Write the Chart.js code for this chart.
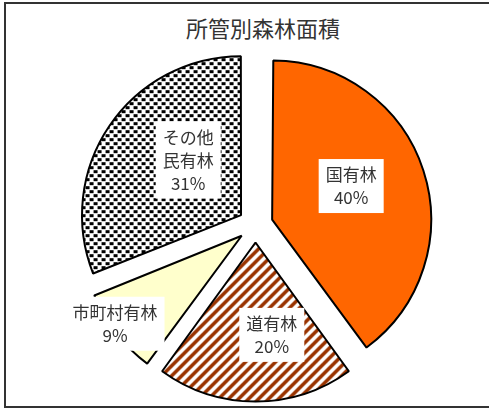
<!DOCTYPE html>
<html>
<head>
<meta charset="utf-8">
<script src="https://cdn.jsdelivr.net/npm/chart.js@4.4.0/dist/chart.umd.min.js"></script>
<style>
  body { margin: 0; background: #fff; width: 489px; height: 410px; overflow: hidden; position: relative;
         font-family: "Noto Sans CJK JP", sans-serif; }
  #frame { position: absolute; left: 4px; top: 2px; width: 600px; height: 406px; box-sizing: border-box;
           border: 2px solid #333; }
  #title { position: absolute; left: 0; top: 11px; width: 526px; text-align: center; font-size: 22px;
           line-height: 32px; color: #333; }
  canvas { position: absolute; left: 0; top: 0; }
</style>
</head>
<body>
<div id="frame"></div>
<div id="title">所管別森林面積</div>
<canvas id="pie" width="489" height="410"></canvas>
<script>
// shares in percent, clockwise from 12 o'clock
const categories = ['国有林', '道有林', '市町村有林', 'その他民有林'];
const shares = [40, 20, 9, 31];

const R = 159;
const explode = 70;   // Chart.js moves an arc by offset / 4

function stripes() {
  const c = document.createElement('canvas');
  c.width = 10; c.height = 10;
  const g = c.getContext('2d');
  g.fillStyle = '#fff';
  g.fillRect(0, 0, 10, 10);
  g.strokeStyle = '#993300';
  g.lineWidth = 3.5;
  g.beginPath();
  g.moveTo(-5, 5); g.lineTo(5, -5);
  g.moveTo(0, 10); g.lineTo(10, 0);
  g.moveTo(5, 15); g.lineTo(15, 5);
  g.stroke();
  return g.createPattern(c, 'repeat');
}

function checks() {
  const c = document.createElement('canvas');
  c.width = 8; c.height = 8;
  const g = c.getContext('2d');
  g.fillStyle = '#fff';
  g.fillRect(0, 0, 8, 8);
  g.fillStyle = '#000';
  g.fillRect(0, 0, 4, 3);
  g.fillRect(4, 4, 4, 3);
  return g.createPattern(c, 'repeat');
}

// keep every slice at the same radius after the offset
const evenRadius = {
  id: 'evenRadius',
  afterDatasetsUpdate(chart) {
    chart.getDatasetMeta(0).data.forEach(arc => {
      const sweep = arc.endAngle - arc.startAngle;
      arc.outerRadius = R - explode / 4 * (1 - Math.sin(Math.min(Math.PI, sweep)));
    });
  }
};

// label spot: fraction of radius, turn in degrees from the slice middle
const labelSpot = [[0.54, -5], [0.59, -10], [0.97, 3], [0.48, 12]];

const boxLabels = {
  id: 'boxLabels',
  afterDatasetsDraw(chart) {
    const ctx = chart.ctx;
    const total = shares.reduce((a, b) => a + b, 0);
    chart.getDatasetMeta(0).data.forEach((arc, i) => {
      const { x, y, startAngle, endAngle } = arc.getProps(['x', 'y', 'startAngle', 'endAngle'], true);
      const mid = (startAngle + endAngle) / 2;
      const t = explode / 4;
      const vx = x + Math.cos(mid) * t, vy = y + Math.sin(mid) * t;
      const a = mid + labelSpot[i][1] * Math.PI / 180;
      const cx = vx + Math.cos(a) * R * labelSpot[i][0];
      const cy = vy + Math.sin(a) * R * labelSpot[i][0];

      const name = categories[i];
      const lines = name.length > 5
        ? [name.slice(0, Math.ceil(name.length / 2)), name.slice(Math.ceil(name.length / 2))]
        : [name];
      lines.push(Math.round(shares[i] / total * 100) + '%');

      ctx.save();
      ctx.font = '17px "Noto Sans CJK JP", sans-serif';
      const lh = 23;
      const w = Math.max(...lines.map(l => ctx.measureText(l).width)) + 14;
      const h = lines.length * lh + 8;
      ctx.fillStyle = '#fff';
      ctx.fillRect(cx - w / 2, cy - h / 2, w, h);
      ctx.fillStyle = '#333';
      ctx.textAlign = 'center';
      ctx.textBaseline = 'middle';
      lines.forEach((l, k) => {
        ctx.fillText(l, cx, cy - (lines.length - 1) * lh / 2 + k * lh);
      });
      ctx.restore();
    });
  }
};

new Chart(document.getElementById('pie'), {
  type: 'pie',
  data: {
    labels: categories,
    datasets: [{
      data: shares,
      backgroundColor: ['#FF6600', stripes(), '#FFFFCC', checks()],
      borderColor: '#000',
      borderWidth: 2,
      offset: explode
    }]
  },
  options: {
    responsive: false,
    animation: false,
    radius: R,
    layout: { padding: { left: 22, right: 0, top: 40, bottom: 0 } },
    plugins: {
      legend: { display: false },
      tooltip: { enabled: false }
    }
  },
  plugins: [evenRadius, boxLabels]
});
</script>
</body>
</html>
